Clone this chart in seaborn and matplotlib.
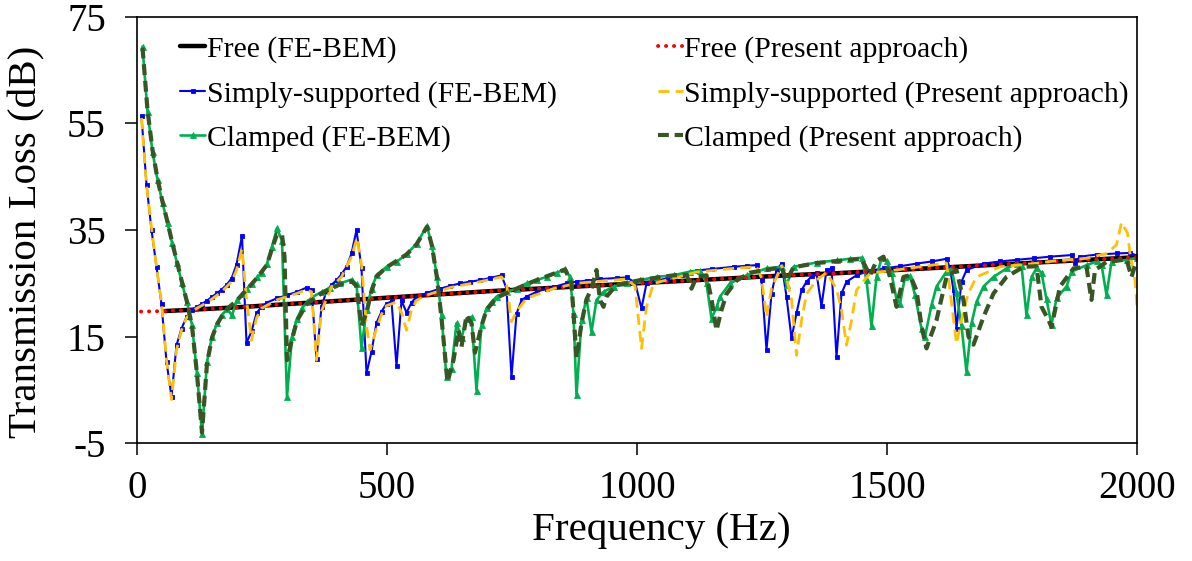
import matplotlib
matplotlib.use("Agg")
import matplotlib.pyplot as plt
import seaborn as sns
import pandas as pd

# ---------------- data ----------------
free_fe_f = [56, 100, 200, 300, 400, 500, 600, 700, 800, 900, 1000, 1100, 1200,
             1300, 1400, 1500, 1600, 1700, 1800, 1900, 2000]
free_fe_tl = [19.8, 20.0, 20.5, 21.1, 21.7, 22.3, 22.9, 23.5, 24.0, 24.5, 25.0, 25.5,
              26.0, 26.5, 26.9, 27.4, 27.9, 28.4, 28.9, 29.4, 29.9]

free_pr_f = [8, 56, 100, 200, 300, 400, 500, 600, 700, 800, 900, 1000, 1100, 1200,
             1300, 1400, 1500, 1600, 1700, 1800, 1900, 2000]
free_pr_tl = [19.7, 19.8, 20.0, 20.5, 21.1, 21.7, 22.3, 22.9, 23.5, 24.0, 24.5, 25.0,
              25.5, 26.0, 26.5, 26.9, 27.4, 27.9, 28.4, 28.9, 29.4, 29.9]

ss_fe_f = [9, 19, 29, 39, 49, 59, 69, 79, 89, 99, 109, 119, 129, 139, 149, 159, 169,
           179, 189, 199, 210, 219, 229, 239, 249, 260, 280, 300, 320, 339, 349, 359,
           369, 379, 389, 399, 409, 419, 429, 439, 449, 459, 469, 479, 489, 499, 509,
           519, 529, 539, 549, 559, 580, 606, 626, 646, 666, 686, 706, 729, 739, 749,
           759, 769, 779, 799, 819, 833, 859, 879, 899, 926, 959, 979, 996, 1009, 1019,
           1039, 1059, 1089, 1119, 1150, 1193, 1220, 1239, 1249, 1259, 1269, 1279,
           1289, 1299, 1309, 1319, 1329, 1339, 1349, 1359, 1369, 1379, 1389, 1399,
           1409, 1419, 1439, 1459, 1493, 1526, 1559, 1590, 1619, 1626, 1633, 1639,
           1649, 1659, 1693, 1726, 1759, 1793, 1826, 1869, 1876, 1886, 1920, 1959,
           1986, 2000]
ss_fe_tl = [56.3, 43.5, 35.0, 28.1, 21.1, 10.3, 3.7, 13.4, 16.5, 18.7, 20.0, 20.6, 21.1,
            21.7, 22.4, 23.1, 23.8, 24.7, 25.9, 28.5, 33.9, 13.8, 16.0, 19.4, 20.6, 21.4,
            22.2, 22.8, 23.4, 24.2, 23.8, 10.9, 20.6, 23.6, 24.7, 25.6, 26.7, 28.1, 30.6,
            35.0, 27.8, 8.1, 12.2, 17.6, 19.7, 21.2, 21.6, 9.5, 21.8, 19.5, 21.4, 22.5,
            23.2, 24.0, 24.5, 25.0, 25.3, 25.6, 26.0, 26.5, 24.0, 7.4, 19.3, 21.8, 22.5,
            23.4, 24.0, 24.3, 25.0, 25.3, 25.5, 25.8, 26.0, 26.1, 25.2, 20.3, 25.0, 25.5,
            25.9, 26.5, 27.4, 27.7, 28.1, 28.3, 28.4, 25.6, 12.5, 23.0, 27.5, 28.7, 22.5,
            14.7, 19.4, 23.7, 25.3, 26.3, 26.9, 20.7, 27.5, 27.8, 11.2, 23.1, 25.3, 26.5,
            27.2, 27.8, 28.2, 28.7, 29.1, 29.6, 27.8, 23.7, 16.5, 25.3, 27.5, 28.7, 29.1,
            29.4, 29.7, 30.0, 30.3, 28.9, 30.0, 30.4, 30.6, 30.7, 30.2]

ss_pr_f = [9, 19, 29, 39, 49, 59, 69, 79, 89, 99, 109, 129, 149, 169, 189, 199, 210,
           219, 229, 239, 249, 280, 320, 339, 349, 359, 369, 389, 409, 429, 440, 449,
           459, 466, 479, 489, 499, 519, 529, 539, 549, 559, 580, 626, 686, 729, 739,
           749, 759, 779, 833, 879, 926, 979, 996, 1009, 1019, 1033, 1059, 1119, 1193,
           1239, 1249, 1259, 1269, 1289, 1299, 1309, 1319, 1329, 1339, 1359, 1379,
           1399, 1409, 1419, 1429, 1439, 1466, 1526, 1590, 1619, 1626, 1639, 1649,
           1662, 1679, 1726, 1793, 1826, 1900, 1939, 1959, 1969, 1981, 1986, 1996, 2000]
ss_pr_tl = [56.0, 43.5, 35.5, 28.0, 21.5, 10.5, 3.2, 12.5, 16.2, 18.5, 19.8, 20.8, 22.0,
            23.4, 25.3, 27.5, 31.5, 22.0, 14.3, 18.5, 20.3, 21.9, 23.1, 23.8, 23.4, 10.6,
            19.8, 24.3, 26.2, 30.0, 33.5, 28.5, 17.0, 12.5, 16.5, 19.2, 20.8, 21.5, 19.5,
            16.2, 20.0, 21.8, 22.8, 24.2, 25.3, 26.2, 25.0, 17.8, 19.7, 22.2, 24.0, 25.0,
            25.4, 25.8, 24.5, 12.8, 20.6, 25.0, 25.6, 27.1, 27.8, 28.1, 26.0, 18.7, 24.0,
            28.3, 26.0, 22.0, 11.5, 18.0, 23.0, 25.6, 27.0, 24.0, 20.0, 13.4, 18.0, 23.7,
            26.9, 27.6, 28.4, 28.8, 23.7, 13.7, 18.1, 23.0, 26.2, 28.1, 28.7, 29.1, 29.7,
            30.6, 32.2, 36.4, 34.4, 30.6, 25.6, 20.6]

cl_fe_f = [11, 21, 31, 41, 51, 61, 70, 80, 90, 100, 110, 120, 130, 140, 150, 160, 170,
           180, 190, 200, 210, 220, 230, 240, 250, 260, 270, 280, 290, 300, 310, 320,
           330, 340, 350, 370, 386, 406, 429, 439, 449, 459, 469, 479, 499, 519, 539,
           559, 580, 590, 600, 609, 619, 629, 639, 649, 659, 669, 679, 689, 699, 709,
           719, 739, 759, 779, 799, 819, 839, 856, 866, 873, 879, 889, 899, 909, 919,
           933, 953, 979, 1006, 1039, 1073, 1106, 1126, 1139, 1149, 1159, 1166, 1186,
           1219, 1259, 1289, 1299, 1313, 1359, 1400, 1426, 1449, 1459, 1469, 1479,
           1489, 1499, 1509, 1519, 1526, 1536, 1546, 1556, 1569, 1576, 1589, 1599,
           1619, 1629, 1639, 1649, 1659, 1669, 1679, 1693, 1713, 1739, 1759, 1769,
           1779, 1789, 1799, 1809, 1819, 1829, 1839, 1859, 1869, 1899, 1919, 1929,
           1939, 1949, 1979, 2000]
cl_fe_tl = [69.4, 57.2, 49.7, 44.4, 40.1, 36.3, 32.6, 28.8, 25.0, 21.5, 17.2, 8.1, -3.2,
            10.3, 15.0, 17.5, 19.0, 20.2, 19.0, 21.9, 23.0, 24.0, 24.9, 26.1, 27.0, 28.7,
            31.9, 35.3, 33.0, 3.7, 15.0, 18.4, 20.3, 21.5, 22.4, 23.4, 24.2, 25.0, 25.7,
            24.9, 12.8, 20.0, 24.0, 26.5, 28.1, 29.0, 30.5, 32.4, 35.8, 32.0, 26.2, 19.0,
            7.4, 9.0, 17.5, 14.7, 18.4, 18.7, 4.9, 17.2, 20.3, 21.5, 22.5, 23.4, 24.0,
            25.0, 25.6, 26.2, 27.0, 27.6, 26.2, 19.3, 4.0, 18.1, 22.2, 15.9, 21.9, 23.4,
            24.4, 25.0, 25.6, 26.2, 26.5, 27.2, 27.4, 25.0, 18.4, 20.5, 22.5, 25.0, 26.5,
            27.8, 28.1, 24.7, 28.1, 28.9, 29.3, 29.6, 29.8, 25.6, 17.0, 26.2, 29.7, 29.1,
            26.9, 22.0, 21.2, 26.2, 26.4, 22.8, 16.5, 15.0, 20.9, 24.4, 27.2, 27.8, 23.1,
            17.0, 8.4, 17.5, 21.5, 24.4, 26.2, 27.8, 28.7, 28.3, 19.0, 26.2, 27.8, 27.0,
            22.0, 17.2, 22.2, 24.4, 27.2, 28.4, 29.1, 28.5, 22.8, 29.0, 29.4, 29.8]

cl_pr_f = [11, 21, 31, 41, 51, 61, 70, 80, 90, 100, 110, 120, 130, 140, 150, 160, 170,
           180, 200, 220, 240, 260, 270, 280, 290, 295, 300, 310, 320, 340, 370, 406,
           429, 439, 449, 459, 469, 479, 499, 539, 559, 580, 590, 600, 609, 621, 633,
           643, 649, 659, 669, 676, 689, 699, 719, 759, 799, 839, 856, 869, 879, 889,
           899, 909, 919, 926, 933, 939, 959, 1006, 1073, 1099, 1109, 1119, 1139, 1149,
           1159, 1169, 1179, 1199, 1226, 1289, 1299, 1313, 1359, 1426, 1449, 1466,
           1479, 1493, 1506, 1519, 1533, 1546, 1559, 1569, 1579, 1589, 1599, 1619,
           1639, 1653, 1663, 1673, 1693, 1713, 1739, 1773, 1799, 1809, 1823, 1829,
           1846, 1873, 1899, 1906, 1909, 1916, 1939, 1979, 1989, 2000]
cl_pr_tl = [69.2, 57.5, 50.0, 44.6, 40.3, 36.5, 32.8, 29.0, 25.2, 21.5, 17.0, 8.0, -3.0,
            10.0, 14.8, 17.3, 18.9, 20.2, 21.8, 23.9, 26.0, 28.5, 31.5, 34.2, 34.2, 30.0,
            10.6, 14.5, 18.0, 21.2, 23.2, 24.8, 25.4, 24.5, 17.0, 19.5, 23.5, 26.3, 28.0,
            30.4, 32.3, 35.6, 32.0, 26.0, 18.5, 6.5, 10.6, 16.2, 13.1, 19.0, 17.5, 12.0,
            17.0, 20.0, 22.3, 24.0, 25.6, 27.0, 27.6, 25.0, 11.0, 17.5, 22.0, 24.0, 27.5,
            21.9, 20.6, 22.5, 24.7, 25.6, 26.5, 26.6, 24.0, 26.2, 26.5, 22.0, 16.2, 20.0,
            23.0, 25.5, 27.0, 28.0, 25.5, 28.0, 28.8, 29.4, 29.6, 26.5, 29.2, 30.0, 26.2,
            20.6, 26.2, 26.5, 23.7, 17.0, 12.8, 15.5, 18.1, 26.2, 27.5, 21.8, 15.0, 13.5,
            18.7, 23.1, 26.2, 28.1, 28.2, 20.6, 18.1, 16.8, 24.4, 27.8, 28.1, 23.7, 21.9,
            27.5, 29.0, 29.5, 26.2, 29.5]

x_ticks = [0, 500, 1000, 1500, 2000]
y_ticks = [-5, 15, 35, 55, 75]

labels = ["Free (FE-BEM)", "Simply-supported (FE-BEM)", "Clamped (FE-BEM)",
          "Free (Present approach)", "Simply-supported (Present approach)",
          "Clamped (Present approach)"]

# ---------------- figure ----------------
sns.set_theme(style="white")
plt.rcParams["font.family"] = ["Liberation Serif", "DejaVu Serif"]

W, H = 1192, 561
fig = plt.figure(figsize=(W / 100, H / 100), dpi=100)
ax = fig.add_axes([137 / W, (H - 443.3) / H, 1000 / W, 426.6 / H])

series = [
    (free_fe_f, free_fe_tl, dict(color="#000000", lw=3.2, ls="-")),
    (ss_fe_f, ss_fe_tl, dict(color="#0000FF", lw=1.5, ls="-", marker="s", ms=3.4)),
    (cl_fe_f, cl_fe_tl, dict(color="#00B050", lw=1.9, ls="-", marker="^", ms=3.8)),
    (free_pr_f, free_pr_tl, dict(color="#FF0000", lw=2.8, ls=(0, (0.05, 2.0)))),
    (ss_pr_f, ss_pr_tl, dict(color="#FFC000", lw=2.0, ls=(0, (4.0, 2.2)))),
    (cl_pr_f, cl_pr_tl, dict(color="#375623", lw=3.0, ls=(0, (2.6, 1.4)))),
]

handles = []
for (fx, ty, st), lab in zip(series, labels):
    df = pd.DataFrame({"Frequency": fx, "TL": ty})
    n_before = len(ax.lines)
    sns.lineplot(data=df, x="Frequency", y="TL", ax=ax, estimator=None,
                 errorbar=None, sort=False, label=lab, color=st["color"])
    line = ax.lines[n_before]
    line.set_linewidth(st["lw"])
    line.set_linestyle(st["ls"])
    if "marker" in st:
        line.set_marker(st["marker"])
        line.set_markersize(st["ms"])
        line.set_markeredgewidth(0.6)
        line.set_markerfacecolor(st["color"])
        line.set_markeredgecolor(st["color"])
    if st["ls"] != "-":
        line.set_dash_capstyle("round" if st["color"] == "#FF0000" else "butt")
    handles.append(line)

ax.set_xlim(0, 2000)
ax.set_ylim(-5, 75)
ax.set_xticks(x_ticks)
ax.set_yticks(y_ticks)
ax.set_xticklabels([str(v) for v in x_ticks])
ax.set_yticklabels([str(v) for v in y_ticks])

for sp in ax.spines.values():
    sp.set_visible(True)
    sp.set_color("black")
    sp.set_linewidth(1.2)

ax.tick_params(axis="both", which="major", direction="out", length=8.5, width=1.1,
               color="black", labelsize=28, labelcolor="black",
               bottom=True, left=True, top=False, right=False)
ax.tick_params(axis="x", pad=11)
ax.tick_params(axis="y", pad=14)

ax.set_xlabel("Frequency (Hz)", fontsize=29.5, color="black")
ax.set_ylabel("Transmission Loss (dB)", fontsize=29.5, color="black")
ax.xaxis.set_label_coords(0.524, -0.16)
ax.yaxis.set_label_coords(-0.092, 0.472)
ax.grid(False)

leg = ax.legend(handles=handles, labels=labels, ncol=2, frameon=False,
                loc="upper left", bbox_to_anchor=(180 / W, 1 - 36 / H),
                bbox_transform=fig.transFigure, fontsize=21.4,
                handlelength=0.85, handletextpad=0.05, columnspacing=3.4,
                labelspacing=0.58, borderpad=0, borderaxespad=0)
for t in leg.get_texts():
    t.set_color("black")

fig.savefig("out.png", dpi=100)
